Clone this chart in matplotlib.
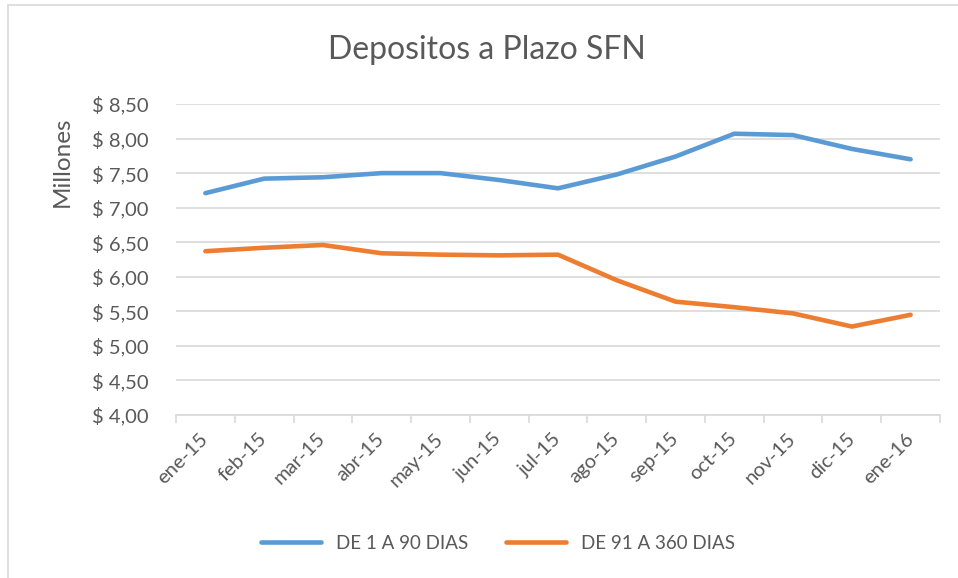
#!/usr/bin/env python3
"""Depositos a Plazo SFN: two maturity buckets, monthly, in millions."""

import matplotlib

matplotlib.use("Agg")
import matplotlib.pyplot as plt
from matplotlib.patches import Rectangle
from matplotlib.ticker import FuncFormatter, FixedLocator

plt.rcParams["font.family"] = ["Lato", "DejaVu Sans"]

months = ["ene-15", "feb-15", "mar-15", "abr-15", "may-15", "jun-15", "jul-15",
          "ago-15", "sep-15", "oct-15", "nov-15", "dic-15", "ene-16"]
dias_1_90 = [7.21, 7.42, 7.44, 7.50, 7.50, 7.40, 7.28, 7.48, 7.74, 8.07, 8.05, 7.85, 7.70]
dias_91_360 = [6.37, 6.42, 6.46, 6.34, 6.32, 6.31, 6.32, 5.95, 5.64, 5.56, 5.47, 5.28, 5.45]

TEXT = "#595959"
GRID = "#D9D9D9"
BLUE = "#5B9BD5"
ORANGE = "#ED7D31"

fig = plt.figure(figsize=(9.58, 5.78), dpi=100)
ax = fig.add_axes([176 / 958, 1 - 415 / 578, (940 - 176) / 958, (415 - 104) / 578])

x = list(range(len(months)))
ax.plot(x, dias_1_90, color=BLUE, linewidth=3.3, solid_capstyle="round", label="DE 1 A 90 DIAS")
ax.plot(x, dias_91_360, color=ORANGE, linewidth=3.3, solid_capstyle="round", label="DE 91 A 360 DIAS")

ax.set_xlim(-0.5, len(months) - 0.5)
ax.set_ylim(4.0, 8.5)
ax.set_yticks([4.0 + 0.5 * i for i in range(10)])
ax.yaxis.set_major_formatter(FuncFormatter(lambda v, _: "$ " + f"{v:.2f}".replace(".", ",")))
ax.grid(axis="y", color=GRID, linewidth=1.2)
ax.set_axisbelow(True)

ax.set_xticks(x)
ax.set_xticklabels(months, rotation=45, ha="right", va="center", rotation_mode="anchor")
ax.xaxis.set_minor_locator(FixedLocator([i - 0.5 for i in range(len(months) + 1)]))
ax.tick_params(axis="x", which="major", length=0, pad=15, labelsize=14.5, labelcolor=TEXT)
ax.tick_params(axis="x", which="minor", length=6, width=1.2, color=GRID)
ax.tick_params(axis="y", length=0, pad=20, labelsize=14.5, labelcolor=TEXT)

for side in ("top", "right", "left"):
    ax.spines[side].set_visible(False)
ax.spines["bottom"].set_color(GRID)
ax.spines["bottom"].set_linewidth(1.2)

fig.text(62 / 958, 1 - 162 / 578, "Millones", rotation=90, ha="center", va="center",
         fontsize=17.5, color=TEXT)
fig.text(0.508, 0.913, "Depositos a Plazo SFN", ha="center", va="center", fontsize=23, color=TEXT)

fig.legend(loc="center", bbox_to_anchor=(0.52, 0.06), ncol=2, frameon=False,
           fontsize=13.5, labelcolor=TEXT, handlelength=3.2, columnspacing=2.0)

# outer chart border (only top/left visible in the crop)
fig.patches.append(Rectangle((8 / 958, -0.05), 1.2, 1 - 5 / 578 + 0.05, transform=fig.transFigure,
                             fill=False, edgecolor=GRID, linewidth=1.2))

fig.savefig("out.png", dpi=100)
